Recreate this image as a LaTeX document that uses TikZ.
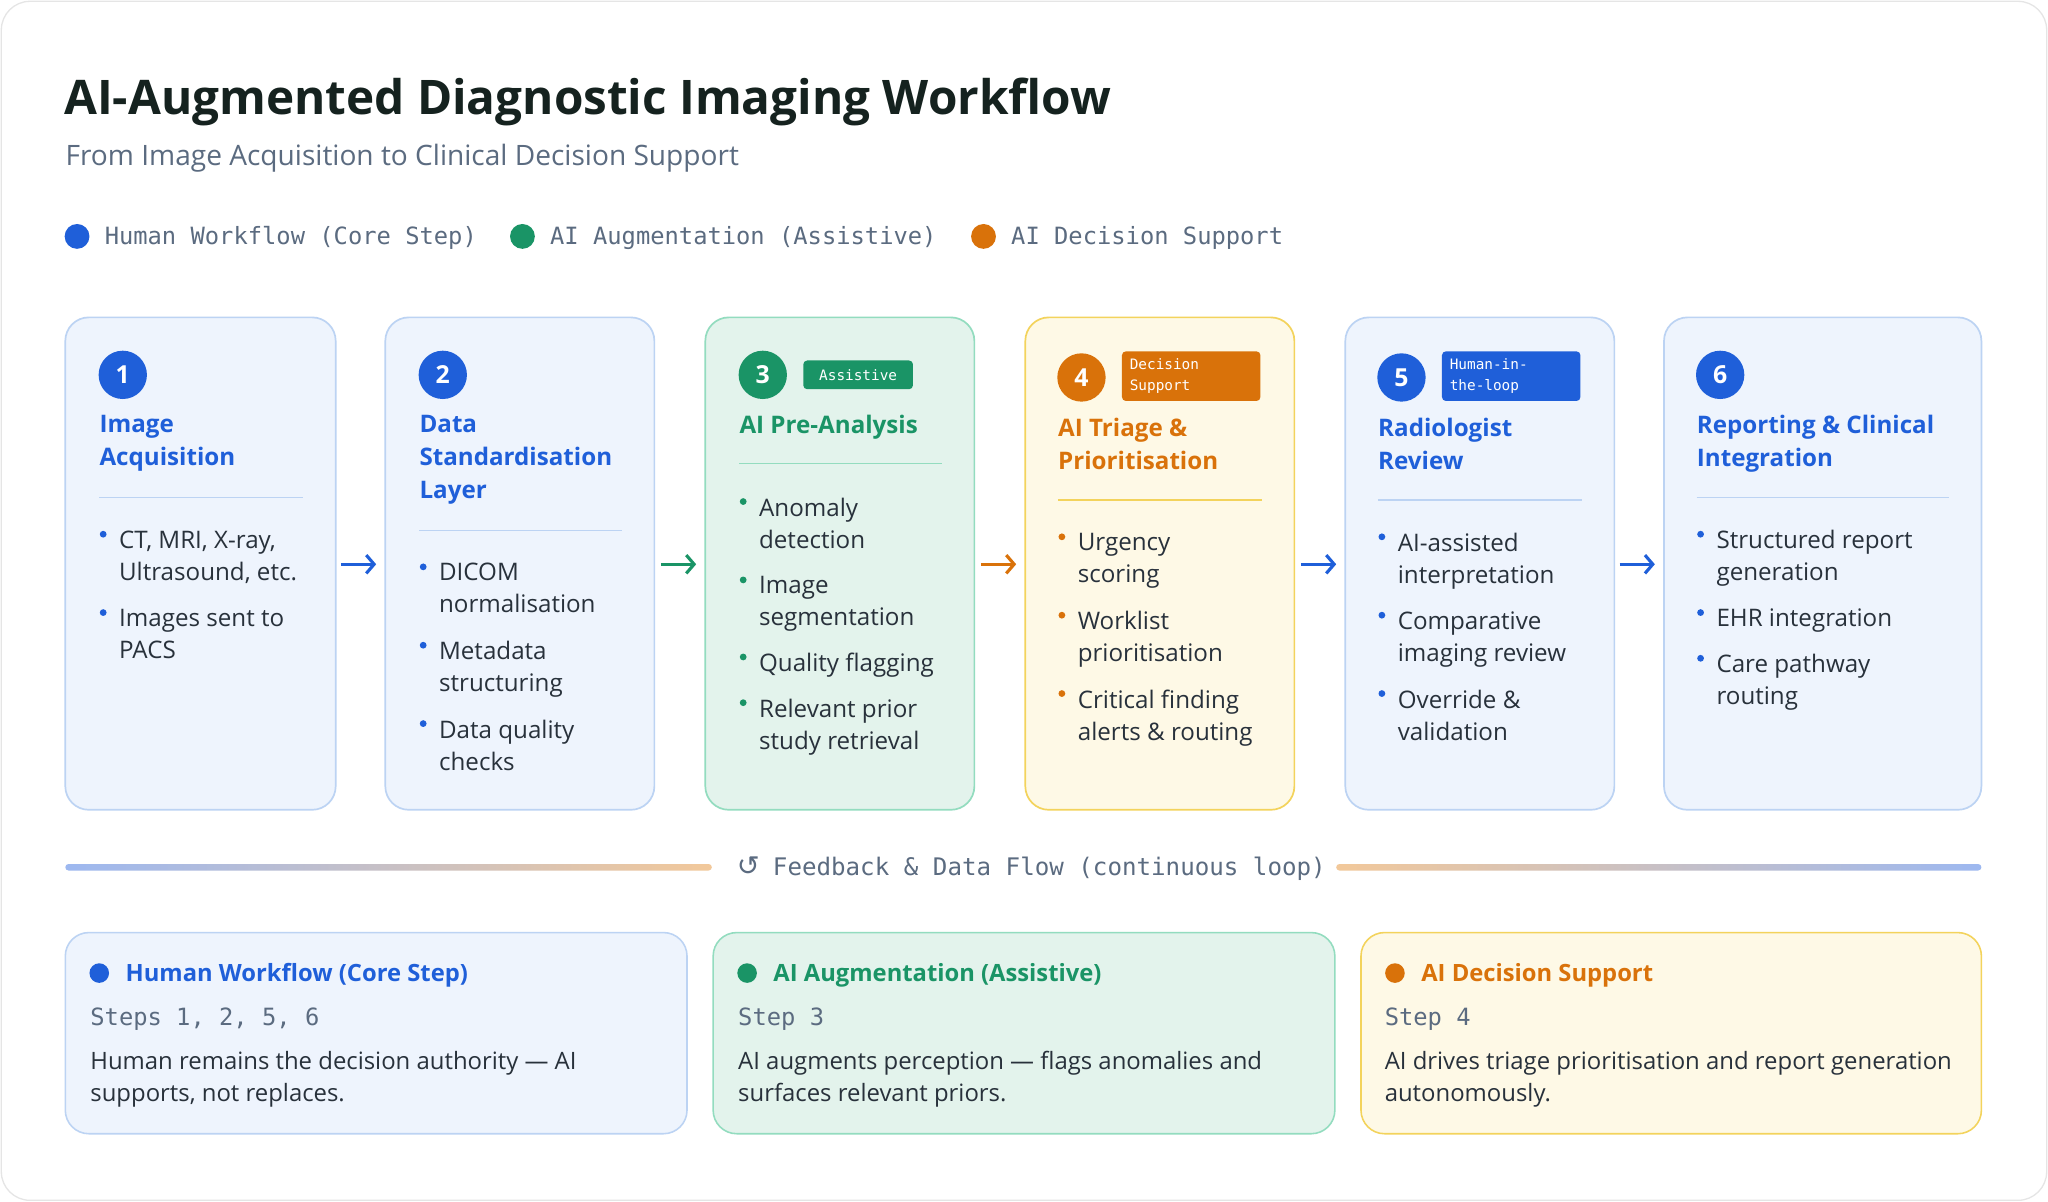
\documentclass[tikz,border=0pt]{standalone}
\usepackage{fontspec}
\usetikzlibrary{arrows.meta}
\setmainfont{Open Sans}
\setmonofont{DejaVu Sans Mono}
\newfontfamily\symf{DejaVu Sans}
\begin{document}
\definecolor{ink}{HTML}{15221F}
\definecolor{sub}{HTML}{5B6B80}
\definecolor{body}{HTML}{28313B}
\definecolor{bl}{HTML}{1F5FD9}
\definecolor{blf}{HTML}{EEF4FD}
\definecolor{blb}{HTML}{BCD3F3}
\definecolor{gr}{HTML}{1A9466}
\definecolor{grf}{HTML}{E3F3EC}
\definecolor{grb}{HTML}{93DCBF}
\definecolor{og}{HTML}{D9720A}
\definecolor{ogf}{HTML}{FEF9E6}
\definecolor{ogb}{HTML}{F3D35C}
\definecolor{gb}{HTML}{9DB8F0}
\definecolor{gg}{HTML}{A8D4BE}
\definecolor{go}{HTML}{F2C89A}
\begin{tikzpicture}[x=1pt,y=-1pt,
 card/.style={rounded corners=18pt,line width=1.3pt},
 num/.style={circle,minimum size=37pt,inner sep=0,text=white,font=\fontsize{19}{19}\selectfont\bfseries},
 ttl/.style={anchor=north west,align=left,inner sep=0,yshift=-5pt,font=\fontsize{18.5}{25}\selectfont\bfseries},
 blt/.style={anchor=north west,align=left,inner sep=0,yshift=-5pt,text=body,font=\fontsize{18.5}{24.5}\selectfont},
 badge/.style={rounded corners=3pt,text=white,align=left,inner sep=0,font=\ttfamily\fontsize{11}{16}\selectfont},
 arr/.style={-{Straight Barb[length=6pt,width=14pt]},line width=2.4pt},
 leg/.style={anchor=west,inner sep=0,yshift=-1pt,text=sub,font=\ttfamily\fontsize{18.2}{20}\selectfont},
 btl/.style={anchor=west,inner sep=0,yshift=-2pt,font=\fontsize{18.2}{22}\selectfont\bfseries},
 bmono/.style={anchor=west,inner sep=0,yshift=-2pt,text=sub,font=\ttfamily\fontsize{18.2}{22}\selectfont},
 bbody/.style={anchor=north west,align=left,inner sep=0,yshift=-5pt,text=body,font=\fontsize{18.3}{24.5}\selectfont}]
\useasboundingbox (0,0) rectangle (1568,920);
\draw[rounded corners=22pt,draw=black!10,fill=white,line width=1pt] (1,1) rectangle (1567,919);
\node[anchor=west,inner sep=0,yshift=-3pt,text=ink,font=\fontsize{36.5}{40}\selectfont\bfseries] (title) at (49,75) {AI-Augmented Diagnostic Imaging Workflow};
\node[anchor=west,inner sep=0,yshift=-2pt,text=sub,font=\fontsize{21.5}{24}\selectfont] (subt) at (50,119) {From Image Acquisition to Clinical Decision Support};
\fill[bl] (59,181) circle (9.5); \node[leg] (l1) at (80,181) {Human Workflow (Core Step)};
\fill[gr] (400,181) circle (9.5); \node[leg] (l2) at (421,181) {AI Augmentation (Assistive)};
\fill[og] (753,181) circle (9.5); \node[leg] (l3) at (774,181) {AI Decision Support};
% cards
\draw[card,draw=blb,fill=blf] (50,243) rectangle (257,620);
\draw[card,draw=blb,fill=blf] (295,243) rectangle (501,620);
\draw[card,draw=grb,fill=grf] (540,243) rectangle (746,620);
\draw[card,draw=ogb,fill=ogf] (785,243) rectangle (991,620);
\draw[card,draw=blb,fill=blf] (1030,243) rectangle (1236,620);
\draw[card,draw=blb,fill=blf] (1274,243) rectangle (1517,620);
% card 1
\node[num,fill=bl] (n1) at (94,287) {1};
\node[ttl,text=bl] (t1) at (76,313) {Image\\Acquisition};
\draw[blb,line width=1.2pt] (76,381) -- (232,381);
\fill[bl] (79,409) circle (2.6); \node[blt] (b11) at (91,401) {CT, MRI, X-ray,\\Ultrasound, etc.};
\fill[bl] (79,469) circle (2.6); \node[blt] (b12) at (91,461) {Images sent to\\PACS};
% card 2
\node[num,fill=bl] (n2) at (339,287) {2};
\node[ttl,text=bl] (t2) at (321,313) {Data\\Standardisation\\Layer};
\draw[blb,line width=1.2pt] (321,406) -- (476,406);
\fill[bl] (324,434) circle (2.6); \node[blt] (b21) at (336,426) {DICOM\\normalisation};
\fill[bl] (324,494) circle (2.6); \node[blt] (b22) at (336,486) {Metadata\\structuring};
\fill[bl] (324,554) circle (2.6); \node[blt] (b23) at (336,546) {Data quality\\checks};
% card 3
\node[num,fill=gr] (n3) at (584,287) {3};
\node[badge,fill=gr,minimum width=84pt,minimum height=22pt,align=center] (g3) at (657,287) {Assistive};
\node[ttl,text=gr] (t3) at (566,313) {AI Pre-Analysis};
\draw[grb,line width=1.2pt] (566,355) -- (721,355);
\fill[gr] (569,384) circle (2.6); \node[blt] (b31) at (581,376) {Anomaly\\detection};
\fill[gr] (569,444) circle (2.6); \node[blt] (b32) at (581,436) {Image\\segmentation};
\fill[gr] (569,503) circle (2.6); \node[blt] (b33) at (581,495) {Quality flagging};
\fill[gr] (569,538) circle (2.6); \node[blt] (b34) at (581,530) {Relevant prior\\study retrieval};
% card 4
\node[num,fill=og] (n4) at (828,289) {4};
\node[badge,fill=og,minimum width=106pt,minimum height=38pt,text width=94pt] (g4) at (912,288) {Decision\\Support};
\node[ttl,text=og] (t4) at (810,315) {AI Triage \&\\Prioritisation};
\draw[ogb,line width=1.2pt] (810,383) -- (966,383);
\fill[og] (813,411) circle (2.6); \node[blt] (b41) at (825,403) {Urgency\\scoring};
\fill[og] (813,471) circle (2.6); \node[blt] (b42) at (825,463) {Worklist\\prioritisation};
\fill[og] (813,531) circle (2.6); \node[blt] (b43) at (825,523) {Critical finding\\alerts \& routing};
% card 5
\node[num,fill=bl] (n5) at (1073,289) {5};
\node[badge,fill=bl,minimum width=106pt,minimum height=38pt,text width=94pt] (g5) at (1157,288) {Human-in-\\the-loop};
\node[ttl,text=bl] (t5) at (1055,315) {Radiologist\\Review};
\draw[blb,line width=1.2pt] (1055,383) -- (1211,383);
\fill[bl] (1058,411) circle (2.6); \node[blt] (b51) at (1070,403) {AI-assisted\\interpretation};
\fill[bl] (1058,471) circle (2.6); \node[blt] (b52) at (1070,463) {Comparative\\imaging review};
\fill[bl] (1058,531) circle (2.6); \node[blt] (b53) at (1070,523) {Override \&\\validation};
% card 6
\node[num,fill=bl] (n6) at (1317,287) {6};
\node[ttl,text=bl] (t6) at (1299,313) {Reporting \& Clinical\\Integration};
\draw[blb,line width=1.2pt] (1299,381) -- (1492,381);
\fill[bl] (1302,409) circle (2.6); \node[blt] (b61) at (1314,401) {Structured report\\generation};
\fill[bl] (1302,469) circle (2.6); \node[blt] (b62) at (1314,461) {EHR integration};
\fill[bl] (1302,504) circle (2.6); \node[blt] (b63) at (1314,496) {Care pathway\\routing};
% arrows
\coordinate (a1s) at (261,432);\coordinate (a1e) at (288,432);
\coordinate (a2s) at (506,432);\coordinate (a2e) at (533,432);
\coordinate (a3s) at (751,432);\coordinate (a3e) at (778,432);
\coordinate (a4s) at (996,432);\coordinate (a4e) at (1023,432);
\coordinate (a5s) at (1240,432);\coordinate (a5e) at (1267,432);
\draw[arr,bl] (a1s) -- (a1e);
\draw[arr,gr] (a2s) -- (a2e);
\draw[arr,og] (a3s) -- (a3e);
\draw[arr,bl] (a4s) -- (a4e);
\draw[arr,bl] (a5s) -- (a5e);
% feedback
\shade[left color=gb,middle color=gg,right color=go,rounded corners=2.5pt] (50,661.5) rectangle (545,666.5);
\shade[left color=go,middle color=gg,right color=gb,rounded corners=2.5pt] (1023,661.5) rectangle (1517,666.5);
\node[anchor=west,inner sep=0,text=sub,font=\fontsize{18.5}{20}\selectfont] (fb) at (564,665) {{\symf\fontsize{21}{21}\selectfont ↺}\hspace{10pt}\ttfamily Feedback \& Data Flow (continuous loop)};
% bottom boxes
\draw[card,draw=blb,fill=blf,line width=1.2pt] (50,714) rectangle (526,868);
\draw[card,draw=grb,fill=grf,line width=1.2pt] (546,714) rectangle (1022,868);
\draw[card,draw=ogb,fill=ogf,line width=1.2pt] (1042,714) rectangle (1517,868);
\fill[bl] (76,745) circle (7.5); \node[btl,text=bl] (h1) at (96,745) {Human Workflow (Core Step)};
\node[bmono] (m1) at (69,778) {Steps 1, 2, 5, 6};
\node[bbody] (d1) at (69,800) {Human remains the decision authority — AI\\supports, not replaces.};
\fill[gr] (572,745) circle (7.5); \node[btl,text=gr] (h2) at (592,745) {AI Augmentation (Assistive)};
\node[bmono] (m2) at (565,778) {Step 3};
\node[bbody] (d2) at (565,800) {AI augments perception — flags anomalies and\\surfaces relevant priors.};
\fill[og] (1068,745) circle (7.5); \node[btl,text=og] (h3) at (1088,745) {AI Decision Support};
\node[bmono] (m3) at (1060,778) {Step 4};
\node[bbody] (d3) at (1060,800) {AI drives triage prioritisation and report generation\\autonomously.};
\end{tikzpicture}
\end{document}
